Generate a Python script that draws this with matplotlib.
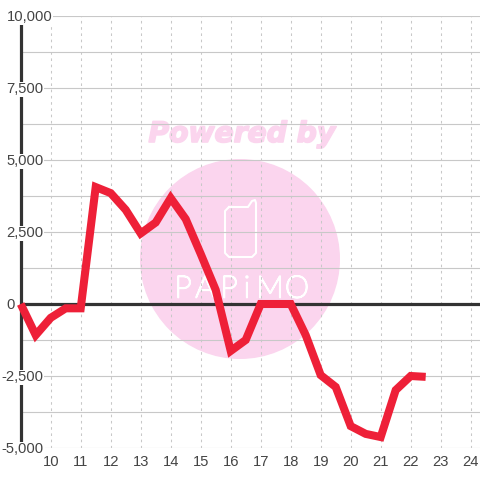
import matplotlib
matplotlib.use("Agg")
import matplotlib.patheffects as pe
import matplotlib.pyplot as plt
from matplotlib.patches import Circle

hours = [9, 9.5, 10, 10.5, 11, 11.5, 12, 12.5, 13, 13.5, 14, 14.5, 15, 15.5, 16, 16.5,
         17, 17.5, 18, 18.5, 19, 19.5, 20, 20.5, 21, 21.5, 22, 22.5]
values = [0, -1080, -480, -150, -150, 4060, 3850, 3270, 2450, 2830, 3680, 2950, 1740, 490, -1630, -1250,
          0, 0, 0, -1080, -2470, -2880, -4240, -4510, -4620, -2990, -2500, -2530]
x_ticks = list(range(10, 25))
y_ticks = [-5000, -2500, 0, 2500, 5000, 7500, 10000]
y_labels = ["-5,000", "-2,500", "0", "2,500", "5,000", "7,500", "10,000"]
y_minor = [-3750, -1250, 1250, 3750, 6250, 8750]

GRID = "#c8c8c8"
DARK = "#333333"
PINK = "#fbd5ee"

plt.rcParams["font.family"] = ["Liberation Sans", "DejaVu Sans"]

fig = plt.figure(figsize=(4.8, 4.8), dpi=100, facecolor="white")

# watermark sits behind everything, drawn in pixel coordinates
bg = fig.add_axes([0, 0, 1, 1], zorder=0)
bg.set_xlim(0, 480)
bg.set_ylim(480, 0)
bg.axis("off")
bg.add_patch(Circle((240, 259), 100, facecolor=PINK, edgecolor="none"))
bg.text(242, 134, "Powered by", color=PINK, fontsize=20.3, fontweight="bold", fontstyle="italic",
        family="DejaVu Sans", ha="center", va="center",
        path_effects=[pe.withStroke(linewidth=1.2, foreground=PINK)])
phone_x = [229, 248, 252, 255, 256, 256, 252, 229, 225, 225, 229]
phone_y = [207, 207, 201, 200, 203, 253, 257, 257, 253, 211, 207]
bg.plot(phone_x, phone_y, color="white", linewidth=1.5, solid_joinstyle="round")
for letter, px in zip("PAPiMO", [183, 205, 229, 247, 270, 297]):
    bg.text(px, 289, letter, color="white", fontsize=22, family="Lato", fontweight="light",
            ha="center", va="center", path_effects=[pe.withStroke(linewidth=1.3, foreground="white")])

ax = fig.add_axes([20.7 / 480, 32 / 480, 459.3 / 480, 432 / 480], zorder=1)
ax.patch.set_alpha(0)
ax.set_xlim(9, 24.31)
ax.set_ylim(-5000, 10000)

for s in ["top", "right", "bottom"]:
    ax.spines[s].set_visible(False)
ax.spines["left"].set_color(DARK)
ax.spines["left"].set_linewidth(2.3)
ax.spines["left"].set_zorder(2)

ax.set_xticks(x_ticks)
ax.set_yticks(y_ticks)
ax.set_yticks(y_minor, minor=True)
ax.set_yticklabels([])
ax.tick_params(axis="both", which="both", length=0)
ax.tick_params(axis="x", labelsize=10.6, labelcolor="#444444", pad=5)
ax.grid(True, axis="y", which="both", color=GRID, linewidth=0.8)
ax.grid(True, axis="x", which="major", color=GRID, linewidth=0.75, linestyle=(0, (2.5, 3.5)))
ax.set_axisbelow(True)

ax.axhline(0, color=DARK, linewidth=2.3, zorder=2)
ax.plot(hours, values, color="#ee2038", linewidth=5.8, solid_joinstyle="miter", solid_capstyle="butt",
        zorder=3, clip_on=False)

# y labels float on white boxes and cut the axis line
for v, lab in zip(y_ticks, y_labels):
    ax.annotate(lab, xy=(0, v), xycoords=("axes fraction", "data"),
                xytext=(-10.2 if v >= 0 else -13.6, -0.8), textcoords="offset points",
                ha="left", va="center", fontsize=10.6, color="#444444", zorder=4, annotation_clip=False,
                bbox=dict(facecolor="white", edgecolor="none", pad=0.4))

fig.savefig("out.png", dpi=100)
plt.close(fig)
